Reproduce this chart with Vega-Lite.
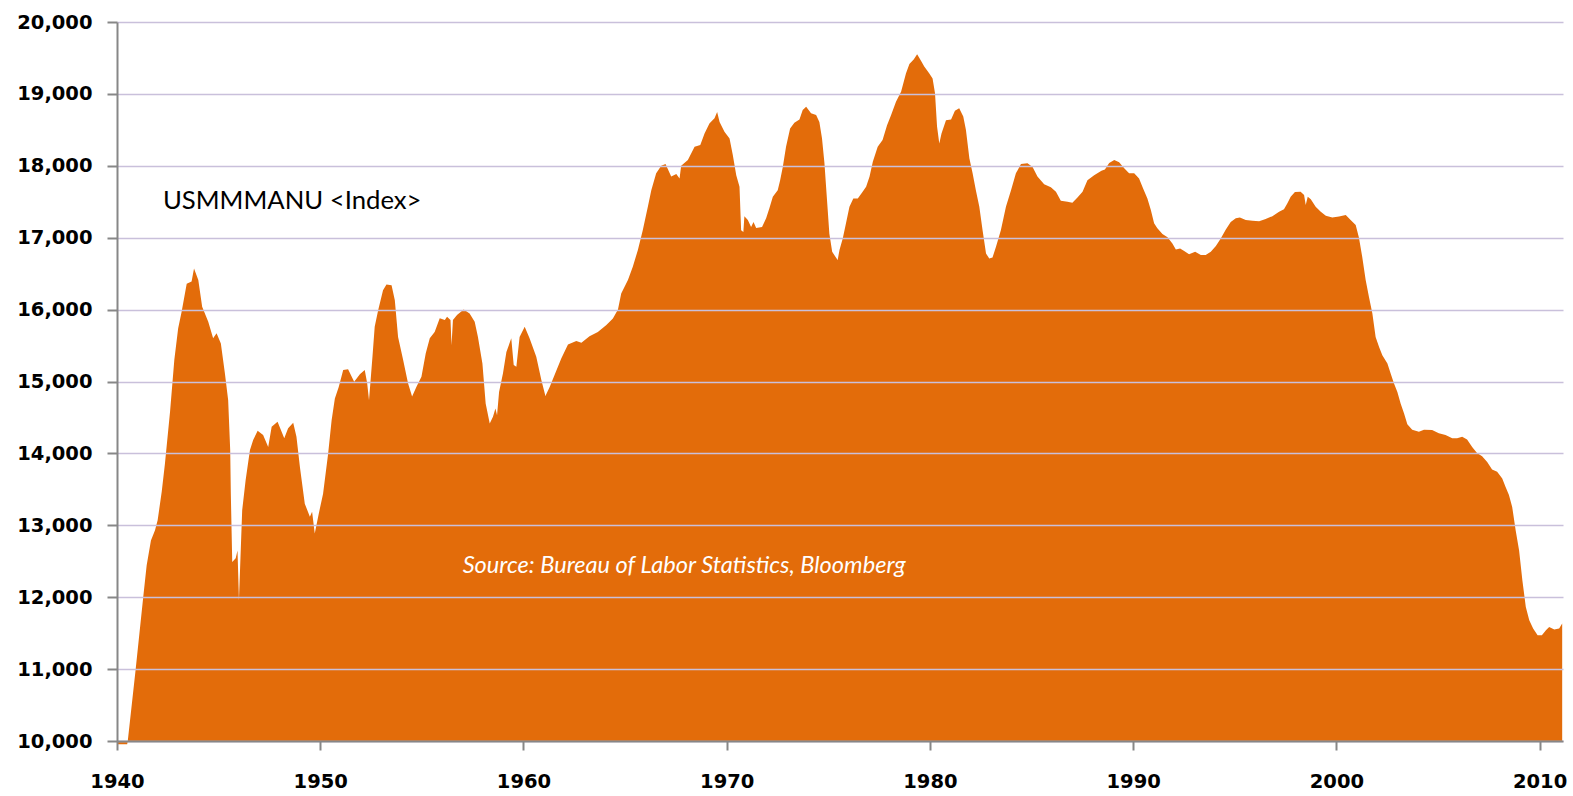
{
  "$schema": "https://vega.github.io/schema/vega-lite/v6.json",
  "width": 1446,
  "height": 719,
  "autosize": "none",
  "padding": {"left": 117, "top": 22, "right": 10, "bottom": 55},
  "background": "white",
  "config": {"view": {"stroke": null}},
  "layer": [
    {
      "data": {"values": [
        {"year": 1940.00, "value": 9955}, {"year": 1940.50, "value": 9955}, {"year": 1940.53, "value": 10000},
        {"year": 1940.92, "value": 11000}, {"year": 1941.29, "value": 12000}, {"year": 1941.46, "value": 12445},
        {"year": 1941.67, "value": 12790}, {"year": 1941.87, "value": 12930}, {"year": 1942.00, "value": 13070},
        {"year": 1942.20, "value": 13465}, {"year": 1942.36, "value": 13860}, {"year": 1942.61, "value": 14580},
        {"year": 1942.82, "value": 15300}, {"year": 1943.01, "value": 15740}, {"year": 1943.18, "value": 15970},
        {"year": 1943.43, "value": 16360}, {"year": 1943.67, "value": 16390}, {"year": 1943.79, "value": 16570},
        {"year": 1944.00, "value": 16410}, {"year": 1944.19, "value": 16040}, {"year": 1944.49, "value": 15830},
        {"year": 1944.73, "value": 15600}, {"year": 1944.90, "value": 15670}, {"year": 1945.11, "value": 15530},
        {"year": 1945.31, "value": 15110}, {"year": 1945.47, "value": 14740}, {"year": 1945.57, "value": 14045},
        {"year": 1945.60, "value": 13450}, {"year": 1945.67, "value": 12490}, {"year": 1945.84, "value": 12540},
        {"year": 1945.93, "value": 12650}, {"year": 1946.00, "value": 11960}, {"year": 1946.16, "value": 13210},
        {"year": 1946.33, "value": 13630}, {"year": 1946.54, "value": 14045}, {"year": 1946.70, "value": 14185},
        {"year": 1946.92, "value": 14315}, {"year": 1947.19, "value": 14255}, {"year": 1947.44, "value": 14090},
        {"year": 1947.61, "value": 14370}, {"year": 1947.90, "value": 14440}, {"year": 1948.23, "value": 14210},
        {"year": 1948.42, "value": 14350}, {"year": 1948.67, "value": 14425}, {"year": 1948.83, "value": 14230},
        {"year": 1949.00, "value": 13810}, {"year": 1949.24, "value": 13300}, {"year": 1949.49, "value": 13120},
        {"year": 1949.60, "value": 13190}, {"year": 1949.73, "value": 12885}, {"year": 1949.93, "value": 13165},
        {"year": 1950.14, "value": 13440}, {"year": 1950.39, "value": 14000}, {"year": 1950.56, "value": 14460},
        {"year": 1950.72, "value": 14765}, {"year": 1950.91, "value": 14925}, {"year": 1951.13, "value": 15160},
        {"year": 1951.37, "value": 15170}, {"year": 1951.67, "value": 14995}, {"year": 1951.95, "value": 15100},
        {"year": 1952.19, "value": 15160}, {"year": 1952.31, "value": 14975}, {"year": 1952.40, "value": 14740},
        {"year": 1952.57, "value": 15345}, {"year": 1952.68, "value": 15760}, {"year": 1952.85, "value": 15990},
        {"year": 1953.09, "value": 16270}, {"year": 1953.26, "value": 16350}, {"year": 1953.51, "value": 16340},
        {"year": 1953.67, "value": 16130}, {"year": 1953.83, "value": 15620}, {"year": 1954.08, "value": 15300},
        {"year": 1954.32, "value": 14975}, {"year": 1954.52, "value": 14790}, {"year": 1954.73, "value": 14925},
        {"year": 1954.98, "value": 15065}, {"year": 1955.19, "value": 15390}, {"year": 1955.39, "value": 15600},
        {"year": 1955.63, "value": 15690}, {"year": 1955.88, "value": 15880}, {"year": 1956.13, "value": 15855},
        {"year": 1956.24, "value": 15900}, {"year": 1956.41, "value": 15855}, {"year": 1956.46, "value": 15505},
        {"year": 1956.53, "value": 15855}, {"year": 1956.73, "value": 15925}, {"year": 1957.06, "value": 16000},
        {"year": 1957.35, "value": 15945}, {"year": 1957.60, "value": 15830}, {"year": 1957.76, "value": 15620},
        {"year": 1957.98, "value": 15250}, {"year": 1958.14, "value": 14695}, {"year": 1958.34, "value": 14415},
        {"year": 1958.50, "value": 14510}, {"year": 1958.62, "value": 14625}, {"year": 1958.70, "value": 14530},
        {"year": 1958.80, "value": 14855}, {"year": 1958.99, "value": 15110}, {"year": 1959.16, "value": 15410},
        {"year": 1959.40, "value": 15600}, {"year": 1959.52, "value": 15230}, {"year": 1959.65, "value": 15205},
        {"year": 1959.81, "value": 15620}, {"year": 1960.06, "value": 15760}, {"year": 1960.30, "value": 15600},
        {"year": 1960.63, "value": 15345}, {"year": 1960.88, "value": 15020}, {"year": 1961.08, "value": 14800},
        {"year": 1961.29, "value": 14925}, {"year": 1961.53, "value": 15090}, {"year": 1961.86, "value": 15320},
        {"year": 1962.19, "value": 15515}, {"year": 1962.60, "value": 15565}, {"year": 1962.85, "value": 15540},
        {"year": 1963.25, "value": 15630}, {"year": 1963.66, "value": 15690}, {"year": 1964.08, "value": 15785},
        {"year": 1964.40, "value": 15875}, {"year": 1964.65, "value": 16000}, {"year": 1964.81, "value": 16225},
        {"year": 1965.14, "value": 16410}, {"year": 1965.38, "value": 16595}, {"year": 1965.63, "value": 16830},
        {"year": 1965.87, "value": 17105}, {"year": 1966.12, "value": 17430}, {"year": 1966.29, "value": 17660},
        {"year": 1966.53, "value": 17895}, {"year": 1966.78, "value": 18000}, {"year": 1966.99, "value": 18025},
        {"year": 1967.27, "value": 17850}, {"year": 1967.52, "value": 17885}, {"year": 1967.68, "value": 17825},
        {"year": 1967.76, "value": 18000}, {"year": 1968.09, "value": 18080}, {"year": 1968.42, "value": 18265},
        {"year": 1968.70, "value": 18290}, {"year": 1968.91, "value": 18450}, {"year": 1969.15, "value": 18590},
        {"year": 1969.40, "value": 18660}, {"year": 1969.53, "value": 18750}, {"year": 1969.65, "value": 18610},
        {"year": 1969.89, "value": 18475}, {"year": 1970.14, "value": 18380}, {"year": 1970.30, "value": 18150},
        {"year": 1970.47, "value": 17870}, {"year": 1970.63, "value": 17710}, {"year": 1970.71, "value": 17105},
        {"year": 1970.82, "value": 17080}, {"year": 1970.87, "value": 17300}, {"year": 1971.04, "value": 17245},
        {"year": 1971.20, "value": 17150}, {"year": 1971.32, "value": 17220}, {"year": 1971.45, "value": 17135},
        {"year": 1971.74, "value": 17150}, {"year": 1971.94, "value": 17270}, {"year": 1972.10, "value": 17410},
        {"year": 1972.27, "value": 17570}, {"year": 1972.51, "value": 17660}, {"year": 1972.63, "value": 17800},
        {"year": 1972.76, "value": 17985}, {"year": 1972.92, "value": 18265}, {"year": 1973.12, "value": 18520},
        {"year": 1973.33, "value": 18600}, {"year": 1973.58, "value": 18645}, {"year": 1973.74, "value": 18775},
        {"year": 1973.91, "value": 18820}, {"year": 1974.15, "value": 18730}, {"year": 1974.40, "value": 18705},
        {"year": 1974.56, "value": 18610}, {"year": 1974.69, "value": 18380}, {"year": 1974.81, "value": 18035},
        {"year": 1974.89, "value": 17710}, {"year": 1974.97, "value": 17385}, {"year": 1975.05, "value": 17060},
        {"year": 1975.19, "value": 16805}, {"year": 1975.35, "value": 16735}, {"year": 1975.46, "value": 16690},
        {"year": 1975.55, "value": 16830}, {"year": 1975.71, "value": 16990}, {"year": 1975.87, "value": 17200},
        {"year": 1976.04, "value": 17430}, {"year": 1976.23, "value": 17545}, {"year": 1976.45, "value": 17545},
        {"year": 1976.69, "value": 17640}, {"year": 1976.86, "value": 17710}, {"year": 1977.03, "value": 17850},
        {"year": 1977.19, "value": 18055}, {"year": 1977.43, "value": 18265}, {"year": 1977.67, "value": 18360},
        {"year": 1977.89, "value": 18565}, {"year": 1978.09, "value": 18705}, {"year": 1978.33, "value": 18890},
        {"year": 1978.58, "value": 19030}, {"year": 1978.82, "value": 19285}, {"year": 1978.99, "value": 19415},
        {"year": 1979.20, "value": 19480}, {"year": 1979.37, "value": 19550}, {"year": 1979.56, "value": 19460},
        {"year": 1979.72, "value": 19380}, {"year": 1979.97, "value": 19285}, {"year": 1980.13, "value": 19215},
        {"year": 1980.25, "value": 19010}, {"year": 1980.35, "value": 18545}, {"year": 1980.46, "value": 18310},
        {"year": 1980.57, "value": 18450}, {"year": 1980.79, "value": 18635}, {"year": 1981.04, "value": 18645},
        {"year": 1981.23, "value": 18765}, {"year": 1981.44, "value": 18800}, {"year": 1981.64, "value": 18685},
        {"year": 1981.77, "value": 18500}, {"year": 1981.94, "value": 18105}, {"year": 1982.10, "value": 17895},
        {"year": 1982.26, "value": 17660}, {"year": 1982.43, "value": 17430}, {"year": 1982.59, "value": 17105},
        {"year": 1982.76, "value": 16780}, {"year": 1982.92, "value": 16710}, {"year": 1983.08, "value": 16725},
        {"year": 1983.25, "value": 16875}, {"year": 1983.49, "value": 17105}, {"year": 1983.74, "value": 17430},
        {"year": 1983.99, "value": 17660}, {"year": 1984.23, "value": 17895}, {"year": 1984.48, "value": 18025},
        {"year": 1984.80, "value": 18035}, {"year": 1985.05, "value": 17985}, {"year": 1985.29, "value": 17850},
        {"year": 1985.62, "value": 17745}, {"year": 1985.95, "value": 17700}, {"year": 1986.20, "value": 17640},
        {"year": 1986.44, "value": 17515}, {"year": 1986.77, "value": 17500}, {"year": 1987.01, "value": 17485},
        {"year": 1987.26, "value": 17560}, {"year": 1987.51, "value": 17640}, {"year": 1987.75, "value": 17800},
        {"year": 1988.08, "value": 17870}, {"year": 1988.44, "value": 17930}, {"year": 1988.61, "value": 17950},
        {"year": 1988.82, "value": 18040}, {"year": 1989.07, "value": 18080}, {"year": 1989.31, "value": 18050},
        {"year": 1989.56, "value": 17965}, {"year": 1989.80, "value": 17895}, {"year": 1990.05, "value": 17895},
        {"year": 1990.29, "value": 17825}, {"year": 1990.49, "value": 17685}, {"year": 1990.70, "value": 17545},
        {"year": 1990.87, "value": 17385}, {"year": 1991.03, "value": 17200}, {"year": 1991.19, "value": 17130},
        {"year": 1991.44, "value": 17050}, {"year": 1991.69, "value": 17005}, {"year": 1991.93, "value": 16920},
        {"year": 1992.10, "value": 16835}, {"year": 1992.31, "value": 16850}, {"year": 1992.51, "value": 16815},
        {"year": 1992.75, "value": 16770}, {"year": 1993.05, "value": 16805}, {"year": 1993.33, "value": 16760},
        {"year": 1993.57, "value": 16760}, {"year": 1993.82, "value": 16805}, {"year": 1994.07, "value": 16885},
        {"year": 1994.31, "value": 16990}, {"year": 1994.56, "value": 17115}, {"year": 1994.80, "value": 17220},
        {"year": 1995.05, "value": 17270}, {"year": 1995.25, "value": 17280}, {"year": 1995.54, "value": 17245},
        {"year": 1995.87, "value": 17235}, {"year": 1996.20, "value": 17230}, {"year": 1996.52, "value": 17260},
        {"year": 1996.85, "value": 17300}, {"year": 1997.18, "value": 17360}, {"year": 1997.42, "value": 17395},
        {"year": 1997.59, "value": 17480}, {"year": 1997.75, "value": 17570}, {"year": 1997.96, "value": 17635},
        {"year": 1998.24, "value": 17640}, {"year": 1998.41, "value": 17595}, {"year": 1998.49, "value": 17455},
        {"year": 1998.59, "value": 17570}, {"year": 1998.74, "value": 17535}, {"year": 1998.98, "value": 17430},
        {"year": 1999.23, "value": 17360}, {"year": 1999.48, "value": 17305}, {"year": 1999.80, "value": 17280},
        {"year": 2000.13, "value": 17295}, {"year": 2000.46, "value": 17315}, {"year": 2000.70, "value": 17245},
        {"year": 2000.95, "value": 17175}, {"year": 2001.11, "value": 17000}, {"year": 2001.27, "value": 16735},
        {"year": 2001.44, "value": 16410}, {"year": 2001.60, "value": 16180}, {"year": 2001.77, "value": 15945},
        {"year": 2001.93, "value": 15620}, {"year": 2002.10, "value": 15480}, {"year": 2002.26, "value": 15365},
        {"year": 2002.51, "value": 15250}, {"year": 2002.67, "value": 15110}, {"year": 2002.83, "value": 14975},
        {"year": 2003.00, "value": 14855}, {"year": 2003.16, "value": 14695}, {"year": 2003.33, "value": 14555},
        {"year": 2003.49, "value": 14405}, {"year": 2003.73, "value": 14330}, {"year": 2004.06, "value": 14300},
        {"year": 2004.31, "value": 14330}, {"year": 2004.71, "value": 14325}, {"year": 2005.04, "value": 14280},
        {"year": 2005.37, "value": 14255}, {"year": 2005.70, "value": 14210}, {"year": 2005.94, "value": 14210},
        {"year": 2006.19, "value": 14230}, {"year": 2006.43, "value": 14195}, {"year": 2006.68, "value": 14090},
        {"year": 2006.92, "value": 14005}, {"year": 2007.17, "value": 13960}, {"year": 2007.42, "value": 13880},
        {"year": 2007.66, "value": 13775}, {"year": 2007.91, "value": 13745}, {"year": 2008.16, "value": 13650},
        {"year": 2008.32, "value": 13535}, {"year": 2008.49, "value": 13420}, {"year": 2008.65, "value": 13255},
        {"year": 2008.82, "value": 12930}, {"year": 2008.99, "value": 12650}, {"year": 2009.15, "value": 12235},
        {"year": 2009.32, "value": 11865}, {"year": 2009.49, "value": 11680}, {"year": 2009.68, "value": 11565},
        {"year": 2009.90, "value": 11470}, {"year": 2010.11, "value": 11470}, {"year": 2010.31, "value": 11540},
        {"year": 2010.47, "value": 11585}, {"year": 2010.72, "value": 11550}, {"year": 2010.96, "value": 11565},
        {"year": 2011.11, "value": 11635}
      ]},
      "mark": {"type": "area", "color": "#E36C0A", "interpolate": "linear"},
      "encoding": {
        "x": {
          "field": "year", "type": "quantitative",
          "scale": {"domain": [1940, 2011.15], "nice": false, "zero": false},
          "axis": {
            "title": null, "values": [1940, 1950, 1960, 1970, 1980, 1990, 2000, 2010],
            "format": "d", "grid": false, "labelFlush": false, "labelOverlap": false,
            "domainColor": "#878787", "domainWidth": 2,
            "tickColor": "#878787", "tickWidth": 2, "tickSize": 9,
            "labelFont": "DejaVu Sans", "labelFontWeight": "bold", "labelFontSize": 19.5,
            "labelColor": "#000000", "labelPadding": 22, "zindex": 1
          }
        },
        "y": {
          "field": "value", "type": "quantitative",
          "scale": {"domain": [10000, 20000], "nice": false, "zero": false},
          "axis": {
            "title": null,
            "values": [10000, 11000, 12000, 13000, 14000, 15000, 16000, 17000, 18000, 19000, 20000],
            "format": ",d", "grid": true, "gridColor": "#C9C0DB", "gridWidth": 1.5,
            "labelFlush": false, "labelOverlap": false,
            "domainColor": "#878787", "domainWidth": 2,
            "tickColor": "#878787", "tickWidth": 2, "tickSize": 10,
            "labelFont": "DejaVu Sans", "labelFontWeight": "bold", "labelFontSize": 19.5,
            "labelColor": "#000000", "labelPadding": 15, "zindex": 1
          }
        },
        "y2": {"datum": 10000}
      }
    },
    {
      "data": {"values": [
        {"year": 1942.26, "value": 17394, "label": "USMMMANU <Index>"}
      ]},
      "mark": {"type": "text", "align": "left", "baseline": "alphabetic", "font": "Lato", "fontSize": 25.7, "color": "#000000"},
      "encoding": {
        "x": {"field": "year", "type": "quantitative"},
        "y": {"field": "value", "type": "quantitative"},
        "text": {"field": "label"}
      }
    },
    {
      "data": {"values": [
        {"year": 1957.01, "value": 12333, "label": "Source: Bureau of Labor Statistics, Bloomberg"}
      ]},
      "mark": {"type": "text", "align": "left", "baseline": "alphabetic", "font": "Lato", "fontStyle": "italic", "fontSize": 23.6, "color": "#FFFFFF"},
      "encoding": {
        "x": {"field": "year", "type": "quantitative"},
        "y": {"field": "value", "type": "quantitative"},
        "text": {"field": "label"}
      }
    }
  ]
}
